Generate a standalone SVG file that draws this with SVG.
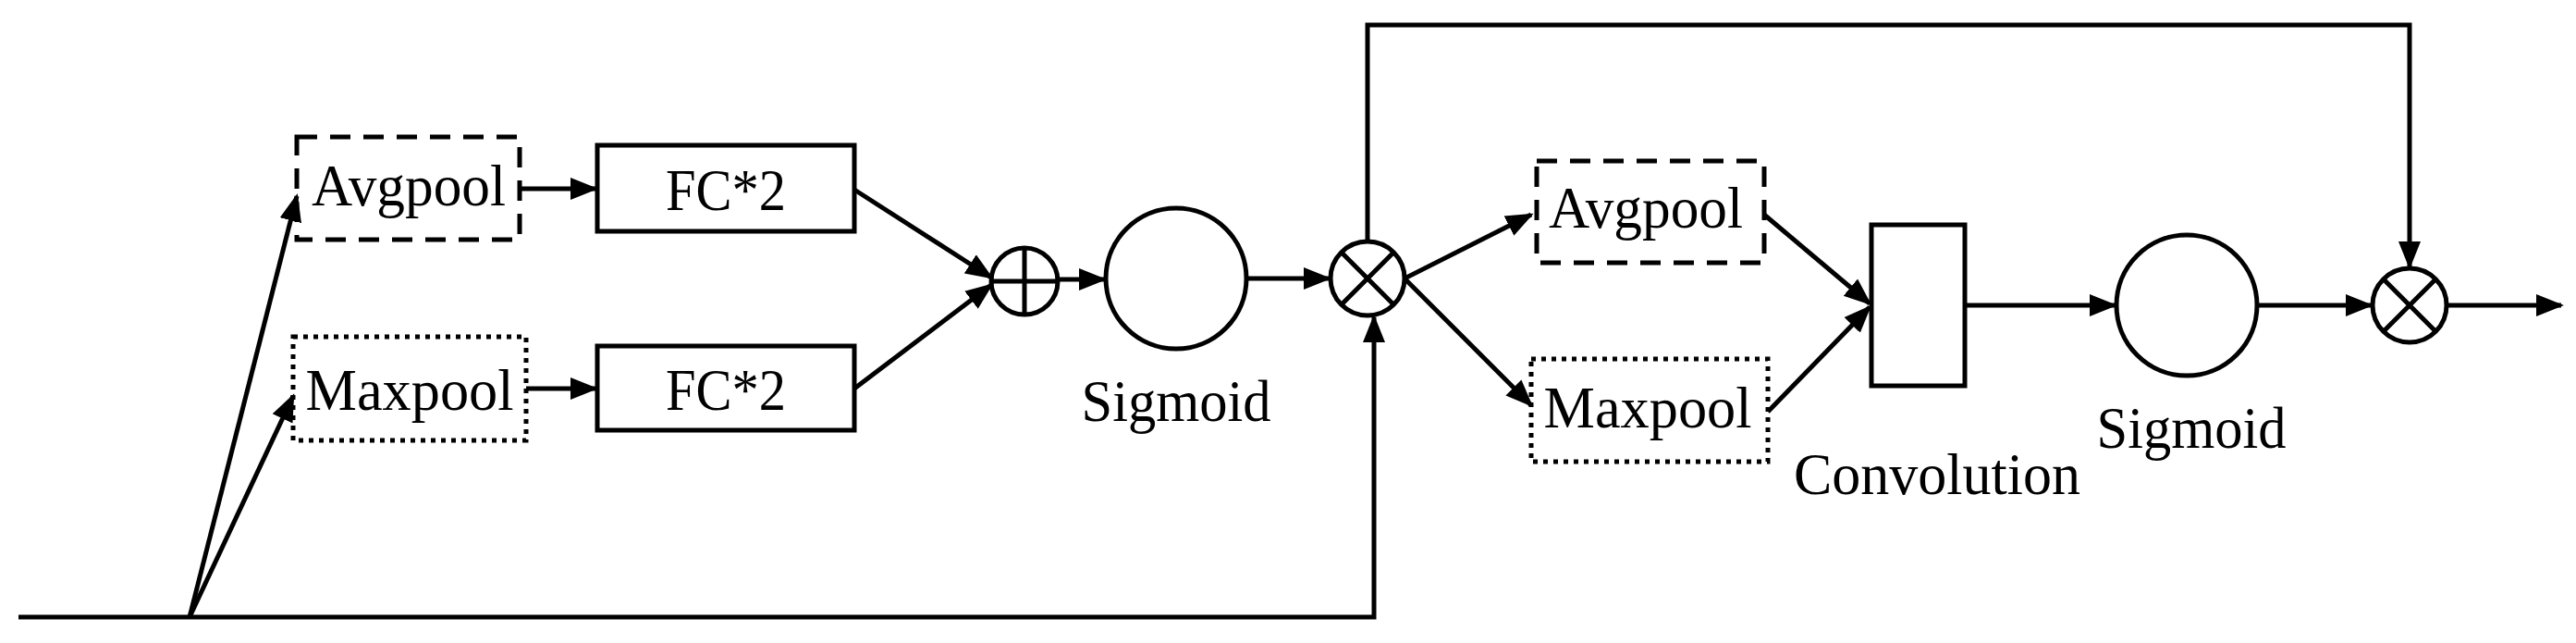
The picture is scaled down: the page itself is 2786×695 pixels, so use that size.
<svg xmlns="http://www.w3.org/2000/svg" width="2786" height="695" viewBox="0 0 2786 695">
<style>
.s{fill:none;stroke:#000;stroke-width:5}
.dash{stroke-dasharray:22 14}
.dot{stroke-dasharray:5 6}
.t{font-family:"Liberation Serif",serif;font-size:64px;fill:#000;text-anchor:middle}
.c{fill:none;stroke:#000;stroke-width:5}
</style>
<defs>
<marker id="a" viewBox="0 0 10 10" refX="9" refY="5" markerWidth="6" markerHeight="6" orient="auto" markerUnits="strokeWidth">
<path d="M0,1 L10,5 L0,9 Z" fill="#000"/>
</marker>
</defs>
<g id="connectors" class="s" marker-end="url(#a)">
<path d="M20,667 H1486 V343" />
<path d="M205,667 L321,212"/>
<path d="M205,667 L317,428"/>
<path d="M562,204 H644"/>
<path d="M569,420 H644"/>
<path d="M924,205 L1072,300" />
<path d="M924,420 L1072,308" />
<path d="M1144,302 H1194"/>
<path d="M1348,301 H1437"/>
<path d="M1479,261 V27 H2606 V288"/>
<path d="M1519,301 L1656,232"/>
<path d="M1519,301 L1656,438"/>
<path d="M1908,232 L2022,328"/>
<path d="M1912,445 L2022,332"/>
<path d="M2125,330 H2287"/>
<path d="M2441,330 H2564"/>
<path d="M2646,330 H2770"/>
</g>
<g id="avg1"><rect class="s dash" x="321" y="148" width="241" height="111"/><text class="t" x="442" y="222" textLength="210" lengthAdjust="spacingAndGlyphs">Avgpool</text></g>
<g id="max1"><rect class="s dot" x="317" y="364" width="252" height="112"/><text class="t" x="443" y="443" textLength="225" lengthAdjust="spacingAndGlyphs">Maxpool</text></g>
<g id="fc1"><rect class="s" x="646" y="157" width="278" height="93"/><text class="t" x="785" y="227" textLength="130" lengthAdjust="spacingAndGlyphs">FC*2</text></g>
<g id="fc2"><rect class="s" x="646" y="374" width="278" height="91"/><text class="t" x="785" y="443" textLength="130" lengthAdjust="spacingAndGlyphs">FC*2</text></g>
<g id="plus"><circle class="c" cx="1108" cy="304" r="36"/><path class="s" d="M1072,304 H1144 M1108,268 V340"/></g>
<g id="sig1"><circle class="c" cx="1272" cy="301" r="76"/><text class="t" x="1272" y="455" textLength="205" lengthAdjust="spacingAndGlyphs">Sigmoid</text></g>
<g id="mul1"><circle class="c" cx="1479" cy="301" r="40"/><path class="s" d="M1451,273 L1507,329 M1507,273 L1451,329"/></g>
<g id="avg2"><rect class="s dash" x="1662" y="174" width="246" height="110"/><text class="t" x="1780" y="246" textLength="210" lengthAdjust="spacingAndGlyphs">Avgpool</text></g>
<g id="max2"><rect class="s dot" x="1656" y="388" width="256" height="111"/><text class="t" x="1782" y="462" textLength="225" lengthAdjust="spacingAndGlyphs">Maxpool</text></g>
<g id="conv"><rect class="s" x="2024" y="243" width="101" height="174"/><text class="t" x="2095" y="534" textLength="310" lengthAdjust="spacingAndGlyphs">Convolution</text></g>
<g id="sig2"><circle class="c" cx="2365" cy="330" r="76"/><text class="t" x="2370" y="484" textLength="205" lengthAdjust="spacingAndGlyphs">Sigmoid</text></g>
<g id="mul2"><circle class="c" cx="2606" cy="330" r="40"/><path class="s" d="M2578,302 L2634,358 M2634,302 L2578,358"/></g>
</svg>
